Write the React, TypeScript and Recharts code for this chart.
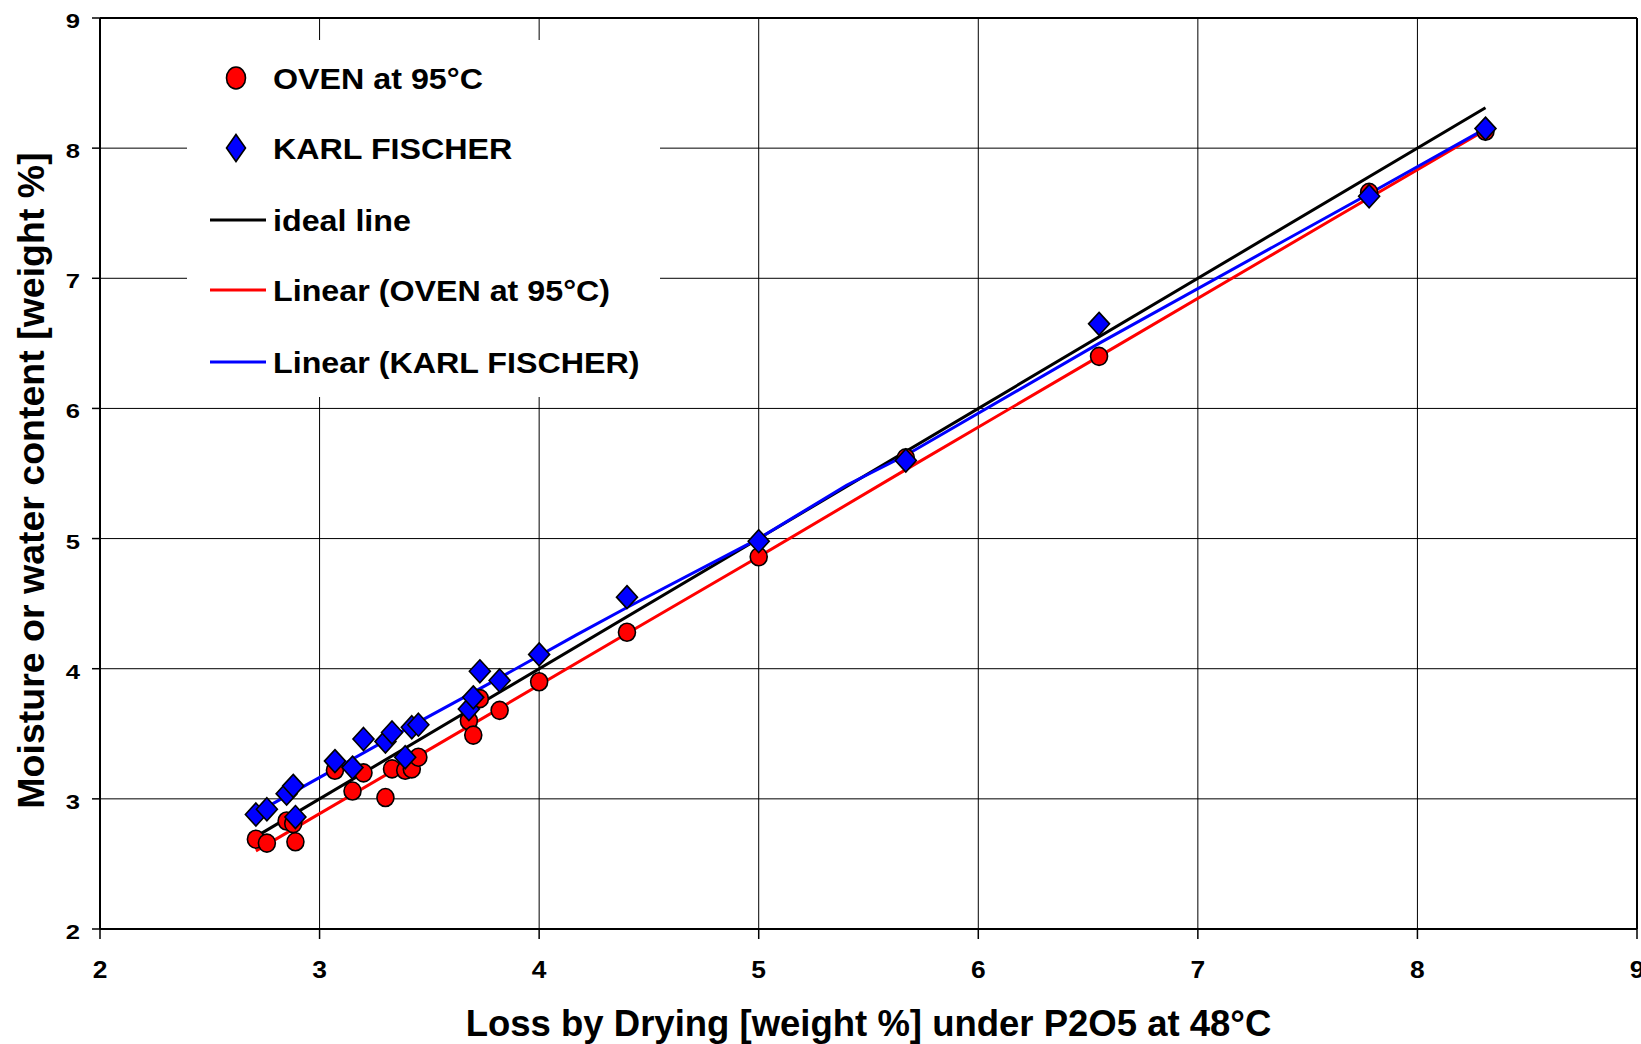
import {
    CartesianGrid,
    Label,
    Legend,
    ReferenceLine,
    Scatter,
    ScatterChart,
    XAxis,
    YAxis,
} from "recharts";

const FONT = "'Liberation Sans', Arial, Helvetica, sans-serif";

// loss by drying under P2O5 (x) for every sample
const lossByDrying = [
    2.71, 2.76, 2.85, 2.88, 2.89, 3.07, 3.15, 3.2, 3.3, 3.33, 3.39, 3.42, 3.45,
    3.68, 3.7, 3.73, 3.82, 4.0, 4.4, 5.0, 5.67, 6.55, 7.78, 8.31,
];
const ovenMoisture = [
    2.69, 2.66, 2.83, 2.81, 2.67, 3.22, 3.06, 3.2, 3.01, 3.23, 3.22, 3.23, 3.32,
    3.6, 3.49, 3.77, 3.68, 3.9, 4.28, 4.86, 5.62, 6.4, 7.66, 8.13,
];
const karlFischer = [
    2.88, 2.92, 3.04, 3.1, 2.86, 3.29, 3.24, 3.46, 3.44, 3.51, 3.32, 3.55, 3.57,
    3.69, 3.78, 3.98, 3.91, 4.11, 4.55, 4.98, 5.6, 6.65, 7.63, 8.15,
];

// trend lines
const idealX = [2.71, 8.31];
const idealY = [2.71, 8.31];
const ovenFitX = [2.71, 3.45, 4.4, 5.0, 5.67, 6.55, 7.6, 8.31];
const ovenFitY = [2.6, 3.33, 4.27, 4.86, 5.53, 6.4, 7.44, 8.14];
const kfFitX = [2.71, 3.07, 3.45, 3.82, 4.17, 4.4, 5.0, 5.4, 5.67, 6.55, 7.78, 8.31];
const kfFitY = [2.89, 3.23, 3.59, 3.93, 4.26, 4.47, 5.0, 5.41, 5.64, 6.5, 7.65, 8.15];

const axisTicks = [2, 3, 4, 5, 6, 7, 8, 9];

const legendLabels = [
    "OVEN at 95°C",
    "KARL FISCHER",
    "ideal line",
    "Linear (OVEN at 95°C)",
    "Linear (KARL FISCHER)",
];

const toPoints = (xs: number[], ys: number[]) =>
    xs.map((x, i) => ({ x, y: ys[i] }));

const ovenPoints = toPoints(lossByDrying, ovenMoisture);
const kfPoints = toPoints(lossByDrying, karlFischer);
const idealPoints = toPoints(idealX, idealY);
const ovenFitPoints = toPoints(ovenFitX, ovenFitY);
const kfFitPoints = toPoints(kfFitX, kfFitY);

function OvenDot(props: any) {
    const { cx, cy } = props;
    return (
        <ellipse cx={cx} cy={cy} rx={8.5} ry={9} fill="#ff0000" stroke="#000" strokeWidth={1.6} />
    );
}

function KfDiamond(props: any) {
    const { cx, cy } = props;
    return (
        <polygon
            points={`${cx},${cy - 11.5} ${cx + 10.5},${cy} ${cx},${cy + 11.5} ${cx - 10.5},${cy}`}
            fill="#0000ff"
            stroke="#000"
            strokeWidth={1.6}
        />
    );
}

const NoDot = () => <g />;

// the original tick digits are a little wider than plain Arial bold
function XTick(props: any) {
    const { x, y, payload } = props;
    return (
        <g transform={`translate(${x},${y})`}>
            <text
                transform="scale(1.1,1)"
                textAnchor="middle"
                dy="0.71em"
                fontFamily={FONT}
                fontWeight={700}
                fontSize={24}
                fill="#000"
            >
                {payload.value}
            </text>
        </g>
    );
}

function YTick(props: any) {
    const { x, y, payload } = props;
    return (
        <g transform={`translate(${x},${y})`}>
            <text
                transform="scale(1.25,1)"
                textAnchor="end"
                dy={10}
                fontFamily={FONT}
                fontWeight={700}
                fontSize={20.5}
                fill="#000"
            >
                {payload.value}
            </text>
        </g>
    );
}

function ChartLegend() {
    const rowY = [38, 108, 180, 250, 322];
    const lineColors = ["#000", "#ff0000", "#0000ff"];
    return (
        <svg width={473} height={357} style={{ display: "block", background: "#fff" }}>
            <ellipse cx={49} cy={rowY[0]} rx={9.5} ry={11} fill="#ff0000" stroke="#000" strokeWidth={1.6} />
            <polygon
                points={`49,${rowY[1] - 13.5} 58.5,${rowY[1]} 49,${rowY[1] + 13.5} 39.5,${rowY[1]}`}
                fill="#0000ff"
                stroke="#000"
                strokeWidth={1.6}
            />
            {lineColors.map((color, i) => (
                <line
                    key={color}
                    x1={23}
                    x2={79}
                    y1={rowY[i + 2]}
                    y2={rowY[i + 2]}
                    stroke={color}
                    strokeWidth={3}
                />
            ))}
            {legendLabels.map((label, i) => (
                <g key={label} transform={`translate(86,${rowY[i] + 10.5}) scale(1.075,1)`}>
                    <text x={0} y={0} fontFamily={FONT} fontWeight={700} fontSize={30} fill="#000">
                        {label}
                    </text>
                </g>
            ))}
        </svg>
    );
}

export default function App() {
    return (
        <div
            style={{
                position: "absolute",
                left: 0,
                top: 0,
                width: 1641,
                height: 1044,
                overflow: "hidden",
                background: "#fff",
            }}
        >
            <ScatterChart
                width={1700}
                height={1044}
                margin={{ top: 18, right: 63, bottom: 55, left: 40 }}
            >
                <CartesianGrid stroke="#000" strokeWidth={1} />
                <XAxis
                    type="number"
                    dataKey="x"
                    domain={[2, 9]}
                    ticks={axisTicks}
                    interval={0}
                    height={60}
                    tickSize={10}
                    tickMargin={22}
                    axisLine={{ stroke: "#000", strokeWidth: 2 }}
                    tickLine={{ stroke: "#000", strokeWidth: 1.5 }}
                    tick={<XTick />}
                >
                    <Label
                        value="Loss by Drying [weight %] under P2O5 at 48°C"
                        position="bottom"
                        offset={21}
                        style={{ fontFamily: FONT, fontWeight: 700, fontSize: 36.5, fill: "#000" }}
                    />
                </XAxis>
                <YAxis
                    type="number"
                    dataKey="y"
                    domain={[2, 9]}
                    ticks={axisTicks}
                    interval={0}
                    width={60}
                    tickSize={8}
                    tickMargin={12}
                    axisLine={{ stroke: "#000", strokeWidth: 2 }}
                    tickLine={{ stroke: "#000", strokeWidth: 1.5 }}
                    tick={<YTick />}
                >
                    <Label
                        content={(props: any) => {
                            const vb = props.viewBox ?? { x: 40, y: 18, width: 60, height: 911 };
                            const cx = vb.x + 4;
                            const cy = vb.y + vb.height / 2 + 7;
                            return (
                                <text
                                    x={cx}
                                    y={cy}
                                    transform={`rotate(-90 ${cx} ${cy})`}
                                    textAnchor="middle"
                                    fontFamily={FONT}
                                    fontWeight={700}
                                    fontSize={37.5}
                                    fill="#000"
                                >
                                    Moisture or water content [weight %]
                                </text>
                            );
                        }}
                    />
                </YAxis>
                <ReferenceLine y={9} stroke="#000" strokeWidth={2} />
                <ReferenceLine x={9} stroke="#000" strokeWidth={2} />
                <Legend
                    layout="vertical"
                    align="center"
                    verticalAlign="middle"
                    content={() => <ChartLegend />}
                    wrapperStyle={{ left: 187, top: 40, width: 473, height: 357, background: "#fff" }}
                />
                <Scatter
                    name="ideal line"
                    data={idealPoints}
                    fill="#000"
                    line={{ stroke: "#000", strokeWidth: 3 }}
                    shape={NoDot}
                    legendType="none"
                    isAnimationActive={false}
                />
                <Scatter
                    name="Linear (OVEN at 95°C)"
                    data={ovenFitPoints}
                    fill="#ff0000"
                    line={{ stroke: "#ff0000", strokeWidth: 3 }}
                    shape={NoDot}
                    legendType="none"
                    isAnimationActive={false}
                />
                <Scatter
                    name="Linear (KARL FISCHER)"
                    data={kfFitPoints}
                    fill="#0000ff"
                    line={{ stroke: "#0000ff", strokeWidth: 3 }}
                    shape={NoDot}
                    legendType="none"
                    isAnimationActive={false}
                />
                <Scatter
                    name="OVEN at 95°C"
                    data={ovenPoints}
                    fill="#ff0000"
                    shape={OvenDot}
                    isAnimationActive={false}
                />
                <Scatter
                    name="KARL FISCHER"
                    data={kfPoints}
                    fill="#0000ff"
                    shape={KfDiamond}
                    isAnimationActive={false}
                />
            </ScatterChart>
        </div>
    );
}
